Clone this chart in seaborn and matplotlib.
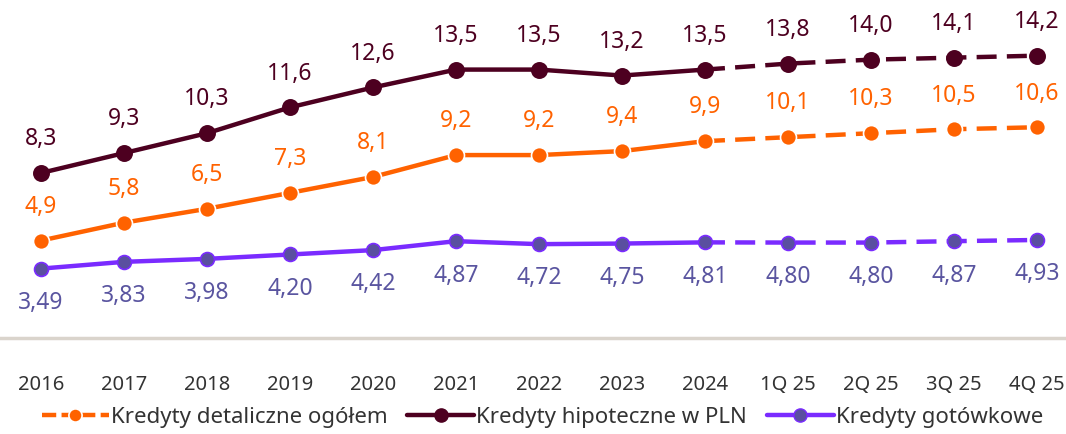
import seaborn as sns
import matplotlib.pyplot as plt
import pandas as pd

# data
periods = ["2016", "2017", "2018", "2019", "2020", "2021", "2022", "2023", "2024",
           "1Q 25", "2Q 25", "3Q 25", "4Q 25"]
detaliczne = [4.9, 5.8, 6.5, 7.3, 8.1, 9.2, 9.2, 9.4, 9.9, 10.1, 10.3, 10.5, 10.6]
hipoteczne = [8.3, 9.3, 10.3, 11.6, 12.6, 13.5, 13.5, 13.2, 13.5, 13.8, 14.0, 14.1, 14.2]
gotowkowe = [3.49, 3.83, 3.98, 4.20, 4.42, 4.87, 4.72, 4.75, 4.81, 4.80, 4.80, 4.87, 4.93]
last_actual = 8  # index of 2024, forecasts after it

sns.set_theme(style="white")
plt.rcParams['font.family'] = ['Noto Sans', 'DejaVu Sans']

df = pd.DataFrame({
    'okres': periods,
    'x': range(len(periods)),
    'Kredyty detaliczne ogółem': detaliczne,
    'Kredyty hipoteczne w PLN': hipoteczne,
    'Kredyty gotówkowe': gotowkowe,
})

series = [
    # name, line colour, marker face, marker edge, label colour, label above?, marker size
    ('Kredyty detaliczne ogółem', '#FF6200', '#FF6200', 'white', '#FF6200', True, 11.5),
    ('Kredyty hipoteczne w PLN', '#4D0020', '#4D0020', '#4D0020', '#4D0020', True, 11),
    ('Kredyty gotówkowe', '#7A2BFF', '#5A4FA0', '#7A2BFF', '#5A55A0', False, 10),
]

fig = plt.figure(figsize=(10.66, 4.35), dpi=100)
ax = fig.add_axes([0, 1 - 339 / 435, 1, 339 / 435])

hist = df[df['x'] <= last_actual]
fcst = df[df['x'] >= last_actual]

for name, lc, mfc, mec, tc, above, ms in series:
    sns.lineplot(data=hist, x='x', y=name, ax=ax, color=lc, lw=3.2, zorder=2)
    sns.lineplot(data=fcst, x='x', y=name, ax=ax, color=lc, lw=3.2,
                 linestyle=(0, (4.5, 2.3)), zorder=2)
    ax.plot(df['x'], df[name], ls='none', marker='o', ms=ms, mfc=mfc,
            mec=mec, mew=1.2, zorder=3)
    for xi, v in zip(df['x'], df[name]):
        txt = f"{v:.2f}" if name == 'Kredyty gotówkowe' else f"{v:.1f}"
        ax.annotate(txt.replace('.', ','), (xi, v),
                    xytext=(0, 25 if above else -24), textcoords='offset points',
                    ha='center', va='center', fontsize=16.5, color=tc)

ax.set_xlim(-0.494, 12.35)
ax.set_ylim(0, 17.05)
ax.set_xticks(df['x'])
ax.set_xticklabels(periods)
ax.tick_params(axis='x', length=0, pad=26, labelsize=14.5, labelcolor='#333333')
ax.set_yticks([])
ax.set_xlabel('')
ax.set_ylabel('')
for s in ['top', 'left', 'right']:
    ax.spines[s].set_visible(False)
ax.spines['bottom'].set_color('#DAD4CC')
ax.spines['bottom'].set_linewidth(2.5)

# legend handles
handles = [
    plt.Line2D([], [], color='#FF6200', lw=3.2, ls=(0, (3.2, 1.2)), marker='o',
               ms=9.5, mfc='#FF6200', mec='white', mew=1.2),
    plt.Line2D([], [], color='#4D0020', lw=3.2, marker='o', ms=9.5,
               mfc='#4D0020', mec='#4D0020'),
    plt.Line2D([], [], color='#7A2BFF', lw=3.2, marker='o', ms=9.5,
               mfc='#5A4FA0', mec='#7A2BFF'),
]
fig.legend(handles, [s[0] for s in series], loc='center', ncol=3,
           bbox_to_anchor=(0.509, 1 - 418 / 435), frameon=False, fontsize=16,
           handlelength=3.0, handletextpad=0.1, columnspacing=0.9,
           labelcolor='#333333')

plt.savefig("out.png", dpi=100)
